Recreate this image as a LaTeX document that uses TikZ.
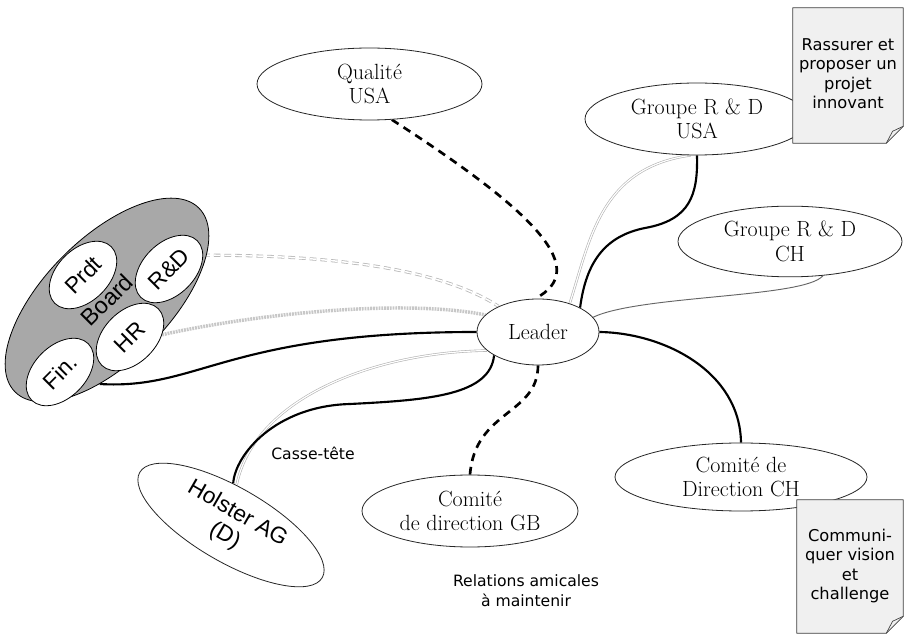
\documentclass[tikz,border=0pt]{standalone}
\usepackage{fontspec}
\newfontfamily\boardfont{Liberation Sans}
\newfontfamily\notefont{DejaVu Sans}
\usetikzlibrary{shapes.geometric}
\pgfdeclarelayer{background}
\pgfdeclarelayer{notefill}
\pgfdeclarelayer{notetext}
\pgfsetlayers{background,main,notefill,notetext}
\begin{document}
\begin{tikzpicture}[x=0.75pt,y=-0.75pt,
  bub/.style={ellipse, draw=black!85, line width=0.6pt, fill=white, inner sep=0pt,
    align=center, font=\fontsize{16.5}{18.5}\selectfont},
  boardpart/.style={ellipse, draw=black, line width=0.6pt, fill=white, inner sep=0pt,
    minimum width=60pt, minimum height=39pt, rotate=45,
    font=\boardfont\fontsize{17}{19}\selectfont},
  notebox/.style={rectangle, inner sep=0pt, align=center,
    font=\notefont\fontsize{12.2}{14.5}\selectfont},
  noteshape/.style={fill=black!6, draw=black!75, line width=0.5pt, line join=round},
  remark/.style={align=center, font=\notefont\fontsize{11.7}{14.8}\selectfont},
  link/.style={draw=black, line width=1.6pt},
  dashlink/.style={draw=black, line width=2pt, dash pattern=on 6pt off 4.5pt},
  softdouble/.style={draw=black!30, double=white, double distance=0.9pt, line width=0.45pt},
  softdash/.style={draw=black!28, double=white, double distance=1.1pt, line width=0.6pt,
    dash pattern=on 5pt off 3pt},
  softband/.style={draw=black!22, line width=2.6pt, dash pattern=on 1.4pt off 0.7pt},
  softthin/.style={draw=black!60, line width=0.7pt},
]
\useasboundingbox (0,0) rectangle (904,634);

% --- stakeholders ---
\node[bub, minimum width=168.75pt, minimum height=54pt] (qual) at (369.5,84) {Qualité\\USA};
\node[bub, minimum width=168pt, minimum height=54pt] (usa) at (697,119) {Groupe R \& D\\USA};
\node[bub, minimum width=168pt, minimum height=53pt] (ch) at (790,241.5) {Groupe R \& D\\CH};
\node[bub, minimum width=91.5pt, minimum height=49.5pt] (lead) at (538,332) {Leader};
\node[bub, minimum width=189pt, minimum height=51pt] (chd) at (741,477) {Comité de\\Direction CH};
\node[bub, minimum width=162pt, minimum height=54pt] (gb) at (470,511) {Comité\\de direction GB};
\node[bub, rotate=-30, minimum width=158pt, minimum height=56pt,
      font=\boardfont\fontsize{17}{19}\selectfont] (hol) at (231,525) {Holster AG\\(D)};

% --- the board and its members ---
\node[ellipse, draw=black, line width=0.6pt, fill=black!34, rotate=45, inner sep=0pt,
      minimum width=195pt, minimum height=93pt,
      font=\boardfont\fontsize{17.5}{19}\selectfont] (board) at (107,300) {Board};
\node[boardpart] (prdt) at (83,275) {Prdt};
\node[boardpart] (rd) at (169,269) {R\&D};
\node[boardpart] (hr) at (130,337) {HR};
\node[boardpart] (fin) at (60,372) {Fin.};

% --- remarks ---
\node[remark] (casse) at (313,453) {Casse-tête};
\node[remark] (rel) at (526,591) {Relations amicales\\à maintenir};

% --- sticky notes ---
\begin{pgfonlayer}{notetext}
\node[notebox, minimum width=82.5pt, minimum height=101.25pt] (noteA) at (848,75.5)
  {\raisebox{2pt}{\begin{tabular}{@{}c@{}}Rassurer et\\proposer un\\projet\\innovant\end{tabular}}};
\node[notebox, minimum width=79.5pt, minimum height=99.75pt] (noteB) at (850,566.5)
  {\raisebox{1pt}{\begin{tabular}{@{}c@{}}Communi-\\quer vision\\et\\challenge\end{tabular}}};
\end{pgfonlayer}
\begin{pgfonlayer}{notefill}
\foreach \n in {noteA,noteB}{
  \path[noteshape] (\n.north west) -- (\n.north east) -- ([yshift=12.75pt]\n.south east)
    -- ([xshift=-12.75pt]\n.south east) -- (\n.south west) -- cycle;
  \draw[noteshape, fill=none] ([yshift=12.75pt]\n.south east)
    -- ([xshift=-8pt,yshift=9pt]\n.south east) -- ([xshift=-12.75pt]\n.south east);
}
\end{pgfonlayer}

% --- relations ---
\begin{pgfonlayer}{background}
\fill[white] (0,0) rectangle (904,634);
\draw[softdash] (rd.-23) .. controls (330,255) and (440,268) .. (lead.147);
\draw[softband] (hr.-41) .. controls (250,315) and (400,298) .. (lead.162);
\draw[softdouble] (lead.200) .. controls (380,352) and (255,395) .. (hol.112);
\draw[softdouble] (lead.42) .. controls (590,240) and (600,168) .. (usa.-100);
\draw[softthin] (lead.15) .. controls (640,295) and (805,298) .. (ch.-46);

\draw[link] (board.220) .. controls (200,390) and (225,332) .. (lead.west);
\draw[link] (lead.208) .. controls (490,395) and (430,400) .. (350,404)
  .. controls (275,406) and (235,455) .. (hol.117);
\draw[link] (lead.30) .. controls (586,262) and (605,236) .. (645,228)
  .. controls (690,220) and (698,195) .. (usa.south);
\draw[link] (lead.east) .. controls (665,333) and (740,372) .. (chd.north);

\draw[dashlink] (qual.-58) .. controls (540,215) and (590,270) .. (lead.95);
\draw[dashlink] (lead.south) .. controls (538,415) and (475,410) .. (gb.north);
\end{pgfonlayer}
\end{tikzpicture}
\end{document}
